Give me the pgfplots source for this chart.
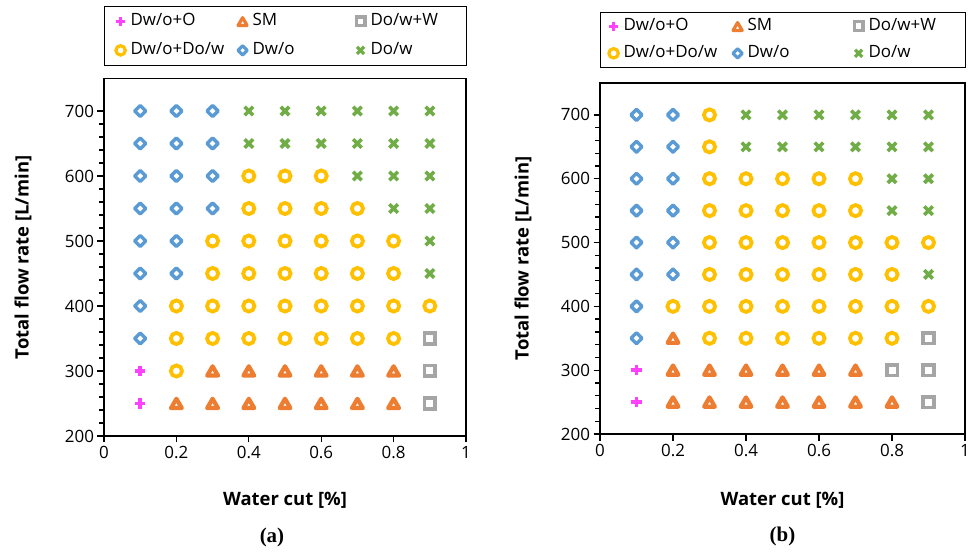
\documentclass[border=0pt]{standalone}
\usepackage{pgfplots}
\pgfplotsset{compat=1.18}
\usepackage{fontspec}
\setmainfont{Open Sans}
\newfontfamily\serifbf{Liberation Serif}
\definecolor{cMag}{HTML}{FF40FF}
\definecolor{cOra}{HTML}{ED7D31}
\definecolor{cGry}{HTML}{A5A5A5}
\definecolor{cGld}{HTML}{FFC000}
\definecolor{cBlu}{HTML}{5B9BD5}
\definecolor{cGrn}{HTML}{70AD47}
\pgfplotsset{
  mP/.style={only marks, color=cMag, mark=+, mark size=5.2bp, mark options={line width=3.6bp}},
  mT/.style={only marks, color=cOra, mark=triangle, mark size=6.2bp, mark options={line width=4.2bp, line join=round, yshift=-1.5bp}},
  mS/.style={only marks, color=cGry, mark=square, mark size=5.3bp, mark options={line width=3.6bp}},
  mO/.style={only marks, color=cGld, mark=o, mark size=5.6bp, mark options={line width=3.8bp}},
  mD/.style={only marks, color=cBlu, mark=square, mark size=3.9bp, mark options={line width=3.4bp, rotate=45, line join=round}},
  mX/.style={only marks, color=cGrn, mark=x, mark size=6bp, mark options={line width=3.6bp}},
  myaxis/.style={
    scale only axis, clip=false,
    xmin=0, xmax=1, ymin=200, ymax=750,
    xtick={0,0.2,0.4,0.6,0.8,1}, ytick={200,300,...,700},
    minor y tick num=4,
    tick align=outside, xtick pos=bottom, ytick pos=left,
    major tick length=6.5bp, minor tick length=5bp,
    axis line style={line width=1.4bp},
    every tick/.style={black, line width=1.3bp},
    tick label style={font=\fontsize{17}{20}\selectfont},
    /pgf/number format/assume math mode=true,
    label style={font=\bfseries\fontsize{18.5}{22}\selectfont},
    ylabel={Total flow rate [L/min]},
    xlabel={Water cut [\%]},
    legend columns=3,
    legend cell align=left,
    legend image code/.code={
      \path[draw=none, fill=none] (-6bp,-6bp) rectangle (6bp,6bp);
      \draw[##1, every mark/.append style={scale=0.84, line width=3.2bp}] plot coordinates {(0bp,0bp)};
    },
  },
  mylegend/.style={
    legend style={draw=black, line width=1.2bp, anchor=south west,
      column sep=0pt, row sep=#1,
      nodes={inner sep=0pt, text height=12bp, text depth=4bp, font=\fontsize{17}{20}\selectfont}},
  },
}
\begin{document}
\begin{tikzpicture}
\useasboundingbox (0,0) rectangle (976bp,555bp);
% ---------------- (a) ----------------
\begin{axis}[myaxis, mylegend=13bp,
  at={(104bp,119bp)}, anchor=south west,
  width=362bp, height=357.5bp,
  ylabel style={at={(axis description cs:-0.224,0.5)}, anchor=center},
  xlabel style={at={(axis description cs:0.5,-0.179)}, anchor=center},
  legend style={at={(rel axis cs:0,1.035)}, inner xsep=10bp, inner ysep=7bp},
]
\addplot[mP] coordinates {(0.1,250) (0.1,300)};
\addlegendentry{\makebox[110bp][l]{\hspace{4bp}Dw/o+O}}
\addplot[mT] coordinates {
 (0.2,250) (0.3,250) (0.4,250) (0.5,250) (0.6,250) (0.7,250) (0.8,250)
 (0.3,300) (0.4,300) (0.5,300) (0.6,300) (0.7,300) (0.8,300)};
\addlegendentry{\makebox[106bp][l]{\hspace{4bp}SM}}
\addplot[mS] coordinates {(0.9,250) (0.9,300) (0.9,350)};
\addlegendentry{\makebox[90bp][l]{\hspace{4bp}Do/w+W}}
\addplot[mO] coordinates {
 (0.2,300)
 (0.2,350) (0.3,350) (0.4,350) (0.5,350) (0.6,350) (0.7,350) (0.8,350)
 (0.2,400) (0.3,400) (0.4,400) (0.5,400) (0.6,400) (0.7,400) (0.8,400) (0.9,400)
 (0.3,450) (0.4,450) (0.5,450) (0.6,450) (0.7,450) (0.8,450)
 (0.3,500) (0.4,500) (0.5,500) (0.6,500) (0.7,500) (0.8,500)
 (0.4,550) (0.5,550) (0.6,550) (0.7,550)
 (0.4,600) (0.5,600) (0.6,600)};
\addlegendentry{\makebox[110bp][l]{\hspace{4bp}Dw/o+Do/w}}
\addplot[mD] coordinates {
 (0.1,350) (0.1,400) (0.1,450) (0.1,500) (0.1,550) (0.1,600) (0.1,650) (0.1,700)
 (0.2,450) (0.2,500) (0.2,550) (0.2,600) (0.2,650) (0.2,700)
 (0.3,550) (0.3,600) (0.3,650) (0.3,700)};
\addlegendentry{\makebox[106bp][l]{\hspace{4bp}Dw/o}}
\addplot[mX] coordinates {
 (0.9,450) (0.9,500) (0.8,550) (0.9,550)
 (0.7,600) (0.8,600) (0.9,600)
 (0.4,650) (0.5,650) (0.6,650) (0.7,650) (0.8,650) (0.9,650)
 (0.4,700) (0.5,700) (0.6,700) (0.7,700) (0.8,700) (0.9,700)};
\addlegendentry{\makebox[90bp][l]{\hspace{4bp}Do/w}}
\node[font=\serifbf\bfseries\fontsize{21}{24}\selectfont] at (axis description cs:0.464,-0.283) {(a)};
\end{axis}
% ---------------- (b) ----------------
\begin{axis}[myaxis, mylegend=11bp,
  at={(600bp,121bp)}, anchor=south west,
  width=365bp, height=351bp,
  ylabel style={at={(axis description cs:-0.211,0.5)}, anchor=center},
  xlabel style={at={(axis description cs:0.5,-0.188)}, anchor=center},
  legend style={at={(rel axis cs:0,1.043)}, inner xsep=7bp, inner ysep=6bp},
]
\addplot[mP] coordinates {(0.1,250) (0.1,300)};
\addlegendentry{\makebox[112bp][l]{\hspace{4bp}Dw/o+O}}
\addplot[mT] coordinates {
 (0.2,250) (0.3,250) (0.4,250) (0.5,250) (0.6,250) (0.7,250) (0.8,250)
 (0.2,300) (0.3,300) (0.4,300) (0.5,300) (0.6,300) (0.7,300)
 (0.2,350)};
\addlegendentry{\makebox[109bp][l]{\hspace{4bp}SM}}
\addplot[mS] coordinates {(0.9,250) (0.8,300) (0.9,300) (0.9,350)};
\addlegendentry{\makebox[94bp][l]{\hspace{4bp}Do/w+W}}
\addplot[mO] coordinates {
 (0.3,350) (0.4,350) (0.5,350) (0.6,350) (0.7,350) (0.8,350)
 (0.2,400) (0.3,400) (0.4,400) (0.5,400) (0.6,400) (0.7,400) (0.8,400) (0.9,400)
 (0.3,450) (0.4,450) (0.5,450) (0.6,450) (0.7,450) (0.8,450)
 (0.3,500) (0.4,500) (0.5,500) (0.6,500) (0.7,500) (0.8,500) (0.9,500)
 (0.3,550) (0.4,550) (0.5,550) (0.6,550) (0.7,550)
 (0.3,600) (0.4,600) (0.5,600) (0.6,600) (0.7,600)
 (0.3,650) (0.3,700)};
\addlegendentry{\makebox[112bp][l]{\hspace{4bp}Dw/o+Do/w}}
\addplot[mD] coordinates {
 (0.1,350) (0.1,400) (0.1,450) (0.1,500) (0.1,550) (0.1,600) (0.1,650) (0.1,700)
 (0.2,450) (0.2,500) (0.2,550) (0.2,600) (0.2,650) (0.2,700)};
\addlegendentry{\makebox[109bp][l]{\hspace{4bp}Dw/o}}
\addplot[mX] coordinates {
 (0.9,450) (0.8,550) (0.9,550) (0.8,600) (0.9,600)
 (0.4,650) (0.5,650) (0.6,650) (0.7,650) (0.8,650) (0.9,650)
 (0.4,700) (0.5,700) (0.6,700) (0.7,700) (0.8,700) (0.9,700)};
\addlegendentry{\makebox[94bp][l]{\hspace{4bp}Do/w}}
\node[font=\serifbf\bfseries\fontsize{21}{24}\selectfont] at (axis description cs:0.5,-0.293) {(b)};
\end{axis}
\end{tikzpicture}
\end{document}
